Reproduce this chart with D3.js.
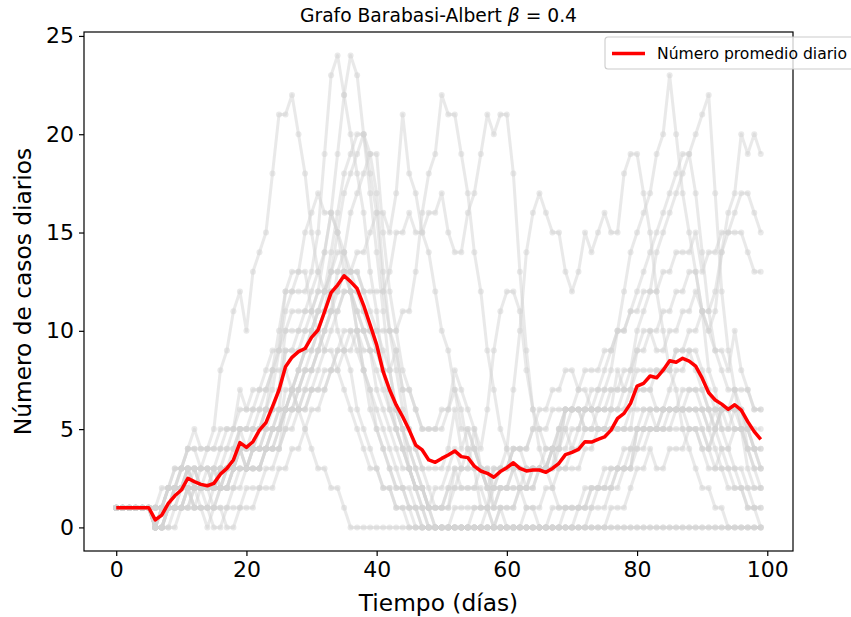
<!DOCTYPE html>
<html>
<head>
<meta charset="utf-8">
<script src="https://cdnjs.cloudflare.com/ajax/libs/d3/7.8.5/d3.min.js"></script>
<style>
body { margin: 0; background: #ffffff; }
text { font-family: "DejaVu Sans", sans-serif; fill: #000; }
</style>
</head>
<body>
<div id="chart"></div>
<script>
// daily cases per simulation run (days 0..99)
var run01 = [1,1,1,1,1,1,1,1,2,2, 3,3,2,3,4,4,4,5,5,6, 6,6,7,7,8,9,11,12,12,12, 13,15,19,23,24,22,20,18,16,13, 11,8,6,5,4,3,2,1,1,0, 0,0,0,0,0,0,0,0,0,0, 0,0,0,0,0,0,0,0,0,0, 0,0,0,1,1,1,2,2,3,3, 5,6,6,6,6,7,8,8,9,9, 8,7,6,6,5,6,6,4,3,3];
var run02 = [1,1,1,1,1,1,0,1,1,2, 2,3,3,2,3,3,3,4,4,5, 5,5,6,6,7,9,10,11,11,11, 12,13,14,16,19,22,24,23,20,17, 14,11,8,6,5,3,2,1,0,0, 0,0,0,0,0,0,0,0,0,0, 0,0,0,0,0,0,0,0,0,0, 0,0,0,0,0,0,0,0,0,0, 0,0,0,0,0,0,0,0,0,0, 0,0,0,0,0,0,0,0,0,0];
var run03 = [1,1,1,1,1,1,1,2,2,3, 3,4,5,4,4,5,8,9,11,12, 10,13,14,15,18,21,21,22,20,18, 15,13,12,12,10,9,8,6,5,4, 3,2,2,1,1,0,0,0,0,0, 0,0,0,0,0,1,1,1,2,2, 2,3,3,2,3,3,4,4,5,5, 4,5,6,6,7,7,8,10,10,11, 11,12,12,12,13,13,14,14,14,15, 13,14,14,15,15,15,15,14,13,13];
var run04 = [1,1,1,1,1,1,0,0,1,1, 1,2,2,1,1,1,2,2,3,3, 3,3,3,4,4,5,6,7,8,9, 9,10,11,12,12,13,13,14,14,15, 16,16,15,17,21,18,17,15,14,12, 10,9,7,6,4,3,1,1,0,1, 0,0,0,1,1,1,2,2,3,3, 4,4,5,5,6,6,7,7,8,8, 9,9,10,10,11,11,12,12,13,13, 11,10,11,14,15,16,17,17,16,15];
var run05 = [1,1,1,1,1,1,0,0,0,1, 1,1,1,1,0,1,1,1,2,2, 3,3,3,4,4,4,5,5,6,6, 7,7,8,8,9,9,10,10,10,10, 10,10,10,10,11,11,13,16,18,19, 22,21,21,19,17,14,12,9,7,5, 4,3,2,1,1,0,0,0,0,0, 0,0,0,0,0,0,0,0,0,0, 0,0,0,0,0,0,0,0,0,0, 0,0,0,0,0,0,0,0,0,0];
var run06 = [1,1,1,1,1,1,0,1,1,1, 2,2,2,2,2,2,3,3,3,4, 3,4,4,5,5,6,6,7,8,9, 10,11,11,12,12,13,13,13,12,12, 12,12,13,15,15,16,15,15,16,16, 17,15,14,14,16,17,19,21,20,21, 21,18,13,9,6,4,3,2,1,1, 1,1,1,2,2,2,3,3,3,4, 4,5,5,5,6,6,6,7,7,7, 6,6,5,6,6,6,5,5,4,4];
var run07 = [1,1,1,1,1,1,0,0,1,1, 1,1,2,2,1,1,1,0,0,1, 1,1,2,2,2,3,3,4,4,5, 6,6,7,8,9,10,10,9,8,7, 6,5,4,3,2,2,1,1,0,0, 0,0,1,1,1,1,1,1,3,3, 4,7,10,14,16,17,16,15,15,13, 12,13,15,14,15,16,15,15,18,19, 19,17,15,12,10,8,7,5,4,3, 2,2,1,1,0,0,0,0,0,0];
var run08 = [1,1,1,1,1,1,1,1,1,2, 2,3,2,2,2,2,3,3,3,4, 3,4,5,5,6,6,9,9,10,10, 11,12,12,13,13,13,12,11,10,9, 7,6,5,4,3,3,2,2,1,1, 1,2,2,3,3,5,4,6,9,11, 12,12,11,8,6,5,4,4,3,3, 3,3,4,4,5,5,6,6,7,7, 9,10,10,9,9,10,10,11,11,12, 11,10,9,9,8,10,8,7,6,6];
var run09 = [1,1,1,1,1,1,0,0,1,1, 1,2,1,1,1,0,0,1,1,1, 2,2,2,3,3,4,5,6,6,7, 8,9,10,11,12,13,13,13,12,11, 10,9,8,6,5,4,3,2,1,0, 0,0,0,0,0,0,0,1,1,1, 1,1,2,2,2,3,3,4,5,6, 6,6,6,7,7,8,9,10,12,14, 15,16,17,19,20,23,20,17,15,13, 11,8,7,5,4,3,2,2,1,1];
var run10 = [1,1,1,1,1,1,0,0,0,0, 1,1,2,2,2,3,2,3,3,4, 4,4,4,5,5,6,6,7,8,9, 10,11,12,14,16,18,19,20,20,19, 17,13,10,8,6,5,4,3,2,1, 1,1,2,2,2,2,2,1,0,1, 1,1,2,2,2,3,3,3,5,6, 6,6,6,6,6,7,7,7,7,8, 10,11,12,14,15,16,17,18,19,20, 21,22,17,12,9,7,5,4,3,2];
var run11 = [1,1,1,1,1,1,1,1,1,1, 2,3,2,2,2,1,2,2,3,3, 3,3,3,4,4,4,6,6,6,6, 7,8,9,10,11,12,12,12,11,10, 9,8,7,6,5,4,3,2,1,1, 1,1,3,2,2,2,3,2,2,2, 2,2,2,3,3,3,3,4,4,4, 5,5,6,6,6,6,6,8,7,7, 7,7,7,8,8,8,9,9,10,10, 11,11,12,14,16,17,20,19,20,19];
var run12 = [1,1,1,1,1,1,0,1,2,2, 2,3,3,2,2,2,2,3,3,5, 4,5,5,6,6,7,9,9,9,10, 10,11,12,13,14,14,13,12,11,10, 9,8,7,5,4,3,2,2,1,1, 1,2,3,3,3,3,3,3,1,2, 2,2,2,2,3,3,3,4,4,5, 6,7,8,8,8,9,9,10,10,11, 12,13,14,15,16,17,18,19,19,17, 14,11,9,8,7,7,6,5,4,3];
var run13 = [1,1,1,1,1,1,1,1,2,3, 3,4,4,3,3,2,3,3,4,5, 5,6,6,7,8,10,12,13,13,15, 16,17,16,16,15,13,12,10,8,6, 5,4,3,2,2,1,1,0,0,0, 0,0,0,0,0,0,0,0,0,0, 0,0,0,0,0,0,0,0,0,1, 1,1,1,2,2,2,2,3,3,3, 5,5,5,5,5,5,6,6,6,6, 6,5,4,3,3,2,2,1,1,1];
var run14 = [1,1,1,1,1,1,0,1,1,2, 2,2,3,3,3,2,2,3,3,4, 4,4,4,4,5,5,6,6,7,8, 9,10,11,13,15,17,18,19,20,18, 16,12,10,9,7,5,4,3,3,3, 3,4,6,4,5,4,3,2,2,3, 3,4,4,4,5,6,6,7,7,8, 8,7,7,6,6,6,6,6,6,7, 8,8,8,8,8,8,9,9,9,8, 7,6,6,6,6,5,5,4,4,3];
var run15 = [1,1,1,1,1,1,1,1,1,2, 3,3,3,3,3,3,4,4,5,5, 5,5,5,6,6,7,10,10,10,11, 11,12,14,16,15,14,12,10,8,7, 5,4,3,2,2,1,1,0,0,0, 0,0,0,0,0,0,0,0,0,0, 0,0,0,0,0,0,0,0,0,0, 0,0,0,0,0,0,1,1,1,2, 3,3,4,3,3,4,4,4,5,5, 5,4,5,6,6,7,7,7,6,6];
var run16 = [1,1,1,1,1,1,0,1,2,2, 3,4,4,4,4,4,5,5,5,7, 6,7,7,8,9,9,12,12,13,13, 11,10,9,9,8,7,6,5,4,3, 3,2,2,1,1,1,0,0,0,0, 0,0,0,0,0,0,0,0,0,0, 0,0,0,0,0,0,0,0,0,0, 0,1,1,1,2,2,2,3,3,3, 4,4,5,5,5,6,6,6,6,6, 5,4,3,3,2,2,2,1,1,0];
var run17 = [1,1,1,1,1,1,0,0,1,1, 1,2,1,1,1,2,2,2,2,3, 3,4,5,6,8,8,8,7,6,5, 4,3,3,2,2,1,0,0,0,0, 0,0,0,0,0,0,0,0,0,0, 0,0,0,0,0,0,0,0,0,0, 0,0,0,0,0,0,0,1,1,1, 1,1,2,2,2,3,3,3,4,4, 5,5,6,5,6,6,6,6,7,7, 7,6,5,4,4,5,5,3,2,2];
var run18 = [1,1,1,1,1,1,0,0,1,1, 1,2,2,2,2,2,3,3,3,4, 4,4,4,4,5,5,6,6,7,8, 8,9,10,11,13,14,16,17,18,19, 19,15,12,10,8,7,6,5,5,5, 5,6,7,5,5,4,3,2,1,2, 2,3,3,3,3,3,3,4,4,6, 6,6,5,5,5,5,5,5,5,6, 6,6,6,6,6,6,6,6,5,5, 4,3,3,4,3,3,3,2,2,2];
var run19 = [1,1,1,1,1,1,1,1,2,2, 2,3,3,2,2,2,2,2,3,3, 3,3,3,4,4,5,7,7,7,8, 8,9,10,11,11,12,12,11,10,9, 8,7,6,5,4,3,2,2,1,2, 2,3,4,3,4,4,3,2,3,3, 3,4,4,3,3,3,3,3,4,6, 6,6,5,5,5,5,5,5,5,5, 7,7,7,6,6,6,6,6,6,6, 6,5,6,5,5,5,5,5,4,4];
var run20 = [1,1,1,1,1,1,0,0,1,2, 2,2,1,2,2,3,2,2,3,4, 3,4,4,4,5,5,6,7,6,7, 7,7,7,8,8,9,9,10,9,9, 9,8,8,9,7,7,6,5,5,5, 6,6,8,7,6,5,3,3,2,3, 3,4,4,4,5,5,5,6,6,6, 6,6,6,6,5,5,5,5,5,5, 5,5,5,5,5,5,5,5,5,5, 4,4,5,6,6,6,6,5,5,5];

var runs = [run01, run02, run03, run04, run05, run06, run07, run08, run09, run10,
            run11, run12, run13, run14, run15, run16, run17, run18, run19, run20];

// daily average (red line)
var meanCases = [1,1,1,1,1,1,0.38,0.63,1.22,1.61, 1.9,2.5,2.33,2.19,2.12,2.24,2.71,3.0,3.43,4.31,
  4.07,4.36,4.95,5.33,6.14,6.99,8.17,8.65,8.94,9.1, 9.67,10.04,10.97,11.94,12.33,12.8,12.5,12.15,11.3,10.3,
  9.3,7.92,6.99,6.23,5.63,4.95,4.19,3.94,3.43,3.31, 3.51,3.68,3.89,3.6,3.55,3.12,2.87,2.75,2.55,2.84,
  3.04,3.29,3.0,2.87,2.92,2.92,2.8,3.0,3.26,3.7, 3.82,3.97,4.36,4.34,4.48,4.6,4.95,5.55,5.8,6.31,
  7.19,7.33,7.7,7.61,8.0,8.48,8.4,8.6,8.46,8.2, 7.59,6.85,6.48,6.27,6.0,6.24,5.97,5.38,4.87,4.48];

var days = d3.range(0, 100);
var xTicks = [0, 20, 40, 60, 80, 100];
var yTicks = [0, 5, 10, 15, 20, 25];

var margin = {top: 32, right: 58, bottom: 66, left: 84},
    width = 851 - margin.left - margin.right,
    height = 617 - margin.top - margin.bottom;

var root = d3.select("#chart")
  .append("svg")
    .attr("width", 851)
    .attr("height", 617);
root.append("rect").attr("width", 851).attr("height", 617).attr("fill", "#ffffff");

var svg = root.append("g")
    .attr("transform", "translate(" + margin.left + "," + margin.top + ")");

var x = d3.scaleLinear().domain([-4.95, 103.95]).range([0, width]);
var y = d3.scaleLinear().domain([-1.2, 25.2]).range([height, 0]);

var line = d3.line()
  .x(function(d, i) { return x(days[i]); })
  .y(function(d) { return y(d); });

// simulation runs, line then markers for each
runs.forEach(function(run) {
  svg.append("path")
    .datum(run)
    .attr("fill", "none")
    .attr("stroke", "#d3d3d3")
    .attr("stroke-opacity", 0.5)
    .attr("stroke-width", 3)
    .attr("stroke-linejoin", "round")
    .attr("d", line);
  svg.append("g").selectAll("circle")
    .data(run)
    .join("circle")
      .attr("cx", function(d, i) { return x(days[i]); })
      .attr("cy", function(d) { return y(d); })
      .attr("r", 3)
      .attr("fill", "#d3d3d3")
      .attr("fill-opacity", 0.5);
});

// average line
svg.append("path")
  .datum(meanCases)
  .attr("fill", "none")
  .attr("stroke", "red")
  .attr("stroke-width", 3.5)
  .attr("stroke-linejoin", "round")
  .attr("d", line);

// axes
var xAxis = svg.append("g")
  .attr("transform", "translate(0," + height + ")")
  .call(d3.axisBottom(x).tickValues(xTicks).tickSize(5).tickPadding(5).tickFormat(d3.format("d")));
var yAxis = svg.append("g")
  .call(d3.axisLeft(y).tickValues(yTicks).tickSize(5).tickPadding(5).tickFormat(d3.format("d")));
[xAxis, yAxis].forEach(function(ax) {
  ax.select(".domain").remove();
  ax.selectAll(".tick line").attr("stroke", "#000").attr("stroke-width", 1.2);
  ax.selectAll(".tick text").attr("font-size", 22).attr("font-family", "DejaVu Sans").attr("fill", "#000");
});

svg.append("rect")
  .attr("width", width)
  .attr("height", height)
  .attr("fill", "none")
  .attr("stroke", "#000")
  .attr("stroke-width", 1.2);

// labels
svg.append("text")
  .attr("x", width / 2)
  .attr("y", height + 60)
  .attr("text-anchor", "middle")
  .attr("font-size", 23.3)
  .text("Tiempo (días)");

svg.append("text")
  .attr("transform", "translate(" + (-53) + "," + (height / 2) + ") rotate(-90)")
  .attr("text-anchor", "middle")
  .attr("font-size", 23.3)
  .text("Número de casos diarios");

var title = svg.append("text")
  .attr("x", width / 2)
  .attr("y", -10)
  .attr("text-anchor", "middle")
  .attr("font-size", 18.7);
title.append("tspan").text("Grafo Barabasi-Albert ");
title.append("tspan").attr("font-style", "italic").text("β");
title.append("tspan").text(" = 0.4");

// legend
var legend = svg.append("g")
  .attr("transform", "translate(" + (605 - margin.left) + "," + (37 - margin.top) + ")");
legend.append("rect")
  .attr("width", 262)
  .attr("height", 32)
  .attr("rx", 3)
  .attr("fill", "#ffffff")
  .attr("fill-opacity", 0.8)
  .attr("stroke", "#cccccc")
  .attr("stroke-width", 1.1);
legend.append("line")
  .attr("x1", 7).attr("x2", 40)
  .attr("y1", 16.5).attr("y2", 16.5)
  .attr("stroke", "red")
  .attr("stroke-width", 3.5);
legend.append("text")
  .attr("x", 52)
  .attr("y", 22)
  .attr("font-size", 15.6)
  .text("Número promedio diario");
</script>
</body>
</html>
